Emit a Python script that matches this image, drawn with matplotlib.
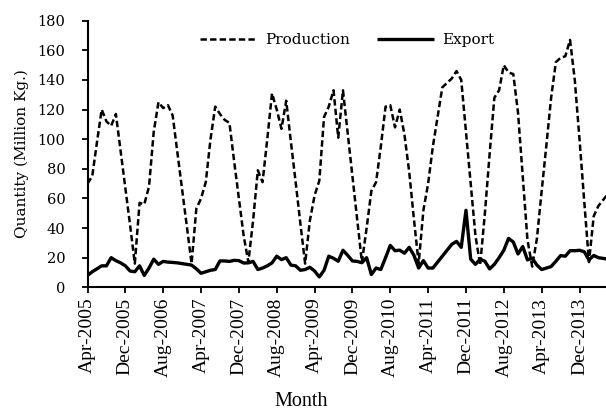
import matplotlib
matplotlib.use("Agg")
import matplotlib.pyplot as plt
import numpy as np

# ---- data (monthly, starting Apr-2005) ----
production = [70, 75, 98, 120, 112, 109, 117, 92, 67, 42, 16,
              57, 56, 68, 105, 125, 121, 123, 116, 91, 66, 41, 16,
              53, 60, 71, 100, 122, 117, 113, 111, 85, 60, 35, 17,
              45, 79, 71, 100, 131, 120, 107, 126, 98, 71, 43, 16,
              45, 62, 72, 115, 122, 133, 101, 133, 104, 75, 46, 17,
              40, 65, 71, 95, 122, 123, 108, 120, 103, 78, 46, 16,
              52, 70, 95, 115, 135, 138, 141, 146, 140, 105, 70, 35, 15,
              50, 90, 128, 133, 150, 145, 144, 118, 75, 32, 14,
              33, 65, 96, 128, 152, 155, 156, 167, 140, 100, 58, 17,
              48, 55, 59, 63]
export = [8, 10.5, 12.5, 14.5, 14.5, 20, 18, 16.5, 14.5, 11, 10.5,
          14.5, 8, 13, 19, 15.5, 17.5, 17, 16.8, 16.5, 16, 15.5, 15,
          12.5, 9.5, 10.5, 11.5, 12, 17.8, 17.8, 17.5, 18.2, 18, 16.4, 16.5,
          17.5, 12, 13, 14.5, 16.5, 21, 18.7, 20, 15, 14.5, 11.5, 12,
          13.5, 11, 7, 11.5, 21, 19.6, 17.6, 25, 21.6, 17.8, 17.5, 16.6,
          20, 8.6, 13, 12, 20, 28.3, 24.7, 25.1, 23, 27, 21.6, 13,
          18, 13, 13, 17, 21, 25, 29, 31, 27, 52, 19, 15.5,
          19, 17.6, 12.4, 15.5, 20, 25, 33, 30.6, 22.5, 27.5, 18.5, 19.6,
          15, 12, 13, 14, 17.6, 21.4, 21, 24.7, 24.7, 25, 24, 18.5,
          21.5, 20, 19.5, 19]
tick_labels = ["Apr-2005", "Dec-2005", "Aug-2006", "Apr-2007", "Dec-2007",
               "Aug-2008", "Apr-2009", "Dec-2009", "Aug-2010", "Apr-2011",
               "Dec-2011", "Aug-2012", "Apr-2013", "Dec-2013"]
y_ticks = [0, 20, 40, 60, 80, 100, 120, 140, 160, 180]

plt.rcParams['lines.scale_dashes'] = False

fig = plt.figure(figsize=(6.06, 4.15), dpi=100)
ax = fig.add_axes([0.1444, 0.3077, 0.8556, 0.6424])

x_prod = np.arange(len(production))
x_exp = np.arange(len(export))

ax.plot(x_prod, production, color='black', linewidth=1.8, linestyle=(0, (4.6, 2.3)),
        dash_capstyle='butt', dash_joinstyle='round', label='Production')
ax.plot(x_exp, export, color='black', linewidth=2.4, solid_joinstyle='round',
        solid_capstyle='butt', label='Export')

ax.set_xlim(0, 109.6)
ax.set_ylim(0, 180)

ax.set_yticks(y_ticks)
ax.set_yticklabels([str(v) for v in y_ticks], family=['DejaVu Serif'], fontsize=10.5)
ax.set_xticks(np.arange(len(tick_labels)) * 8)
ax.set_xticklabels(tick_labels, rotation=90, family=['Liberation Serif'], fontsize=14)

for s in ['top', 'right']:
    ax.spines[s].set_visible(False)
for s in ['left', 'bottom']:
    ax.spines[s].set_linewidth(1.5)
    ax.spines[s].set_color('black')

ax.tick_params(axis='y', direction='out', length=4, width=1.3, pad=12, colors='black')
ax.tick_params(axis='x', direction='out', length=4, width=1.3, pad=3.5, colors='black')

ax.set_ylabel('Quantity (Million Kg.)', family=['DejaVu Serif'], fontsize=11, labelpad=6)
fig.text(0.497, 1 - 401 / 415, 'Month', family=['Liberation Serif'], fontsize=14.5,
         ha='center', va='center')

leg = ax.legend(ncol=2, frameon=False, loc='center left',
                bbox_to_anchor=(200 / 606, 1 - 40 / 415), bbox_transform=fig.transFigure,
                prop={'family': 'DejaVu Serif', 'size': 11},
                handlelength=3.7, handletextpad=0.55, columnspacing=1.8,
                borderpad=0, borderaxespad=0)

fig.savefig('out.png', dpi=100)
